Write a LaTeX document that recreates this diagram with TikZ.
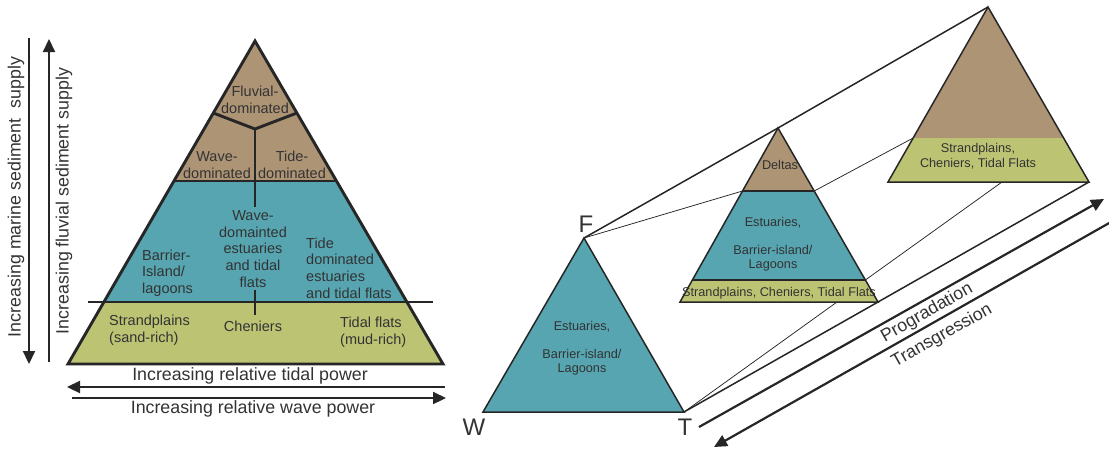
\documentclass[tikz,border=0pt]{standalone}
\usepackage{fontspec}
\setmainfont{Liberation Sans}
\usetikzlibrary{arrows.meta,calc}
\definecolor{delta}{HTML}{AD9475}
\definecolor{estuary}{HTML}{56A5B1}
\definecolor{strand}{HTML}{BCC474}
\definecolor{ink}{HTML}{262626}
\definecolor{txt}{HTML}{333333}
\begin{document}
\begin{tikzpicture}[x=1pt,y=-1pt,
  lbl/.style={text=txt,font=\fontsize{14.5}{16.7}\selectfont,inner sep=0pt},
  axislbl/.style={text=txt,font=\fontsize{17.8}{20}\selectfont,inner sep=0pt},
  smalllbl/.style={text=txt,font=\fontsize{12.7}{14}\selectfont,inner sep=0pt,align=center},
  cornerlbl/.style={text=txt,font=\fontsize{24}{26}\selectfont,inner sep=0pt},
  frame/.style={draw=ink,line width=2.9pt},
  edge/.style={draw=ink,line width=1.5pt},
  thinlink/.style={draw=ink,line width=0.75pt},
  link/.style={draw=ink,line width=1.5pt},
  bigarrow/.style={draw=ink,line width=2.2pt,-{Triangle[length=13pt,width=12pt]}}]
\useasboundingbox (0,0) rectangle (1109,448);

% ---------- ternary pyramid ----------
\coordinate (A) at (255,41);
\coordinate (BL) at (68,364);
\coordinate (BR) at (443,364);
\coordinate (L0) at ($(A)!0.2229!(BL)$);
\coordinate (R0) at ($(A)!0.2229!(BR)$);
\coordinate (L1) at ($(A)!0.4334!(BL)$);
\coordinate (R1) at ($(A)!0.4334!(BR)$);
\coordinate (L2) at ($(A)!0.8080!(BL)$);
\coordinate (R2) at ($(A)!0.8080!(BR)$);
\coordinate (Y) at (255,129);
\coordinate (Ydown) at (255,207);
\coordinate (cutL) at (88,302);
\coordinate (cutR) at (433,302);
\coordinate (tickT) at (255,290);
\coordinate (tickB) at (255,315);

\fill[delta] (A) -- (L1) -- (R1) -- cycle;
\fill[estuary] (L1) -- (L2) -- (R2) -- (R1) -- cycle;
\fill[strand] (L2) -- (BL) -- (BR) -- (R2) -- cycle;
\draw[frame] (L0) -- (Y) -- (R0);
\draw[frame] (Y) -- (Ydown);
\draw[frame] (L1) -- (R1);
\draw[frame] (cutL) -- (cutR);
\draw[frame] (tickT) -- (tickB);
\draw[frame] (A) -- (BL) -- (BR) -- cycle;

\node[lbl,align=center] (fluv) at (255,100) {Fluvial-\\dominated};
\node[lbl,align=center] (wavedom) at (217,165) {Wave-\\dominated};
\node[lbl,align=center] (tidedom) at (292,165) {Tide-\\dominated};
\node[lbl,align=center] (waveest) at (253,249) {Wave-\\domainted\\estuaries\\and tidal\\flats};
\node[lbl,align=left,anchor=west] (barrier) at (142,273) {Barrier-\\Island/\\lagoons};
\node[lbl,align=left,anchor=west] (tideest) at (306,268) {Tide\\dominated\\estuaries\\and tidal flats};
\node[lbl,align=left,anchor=west] (strandp) at (109,330) {Strandplains\\(sand-rich)};
\node[lbl] (chen) at (253,326) {Cheniers};
\node[lbl,align=left,anchor=west] (tflats) at (340,332) {Tidal flats\\(mud-rich)};

% ---------- supply and power axes ----------
\coordinate (mTop) at (29,38);
\coordinate (mBot) at (29,364);
\coordinate (fBot) at (49,362);
\coordinate (fTop) at (49,39);
\draw[bigarrow] (mTop) -- (mBot);
\draw[bigarrow] (fBot) -- (fTop);
\node[axislbl,rotate=90] (marine) at (16,197) {Increasing marine sediment\ \ supply};
\node[axislbl,rotate=90] (fluvial) at (64,201) {Increasing fluvial sediment supply};

\coordinate (tR) at (445,387);
\coordinate (tL) at (67,387);
\coordinate (wL) at (72,398);
\coordinate (wR) at (446,398);
\draw[bigarrow] (tR) -- (tL);
\draw[bigarrow] (wL) -- (wR);
\node[axislbl] (tidal) at (250,376) {Increasing relative tidal power};
\node[axislbl] (wave) at (253,409) {Increasing relative wave power};

% ---------- shoreline succession ----------
\coordinate (F) at (584,238);
\coordinate (W) at (483,412);
\coordinate (T) at (684,412);
\coordinate (M) at (778,128);
\coordinate (MBL) at (680,302);
\coordinate (MBR) at (878,302);
\coordinate (M1L) at ($(M)!0.3621!(MBL)$);
\coordinate (M1R) at ($(M)!0.3621!(MBR)$);
\coordinate (M2L) at ($(M)!0.8736!(MBL)$);
\coordinate (M2R) at ($(M)!0.8736!(MBR)$);
\coordinate (Mfoot) at (837,302);
\coordinate (P) at (988,7);
\coordinate (PBL) at (888,182);
\coordinate (PBR) at (1089,182);
\coordinate (P1L) at ($(P)!0.7486!(PBL)$);
\coordinate (P1R) at ($(P)!0.7486!(PBR)$);
\coordinate (Pfoot) at (1002,182);

% tie lines between the successive triangles
\draw[link] (F) -- (M) -- (P);
\draw[link] (T) -- (MBR) -- (PBR);
\draw[thinlink] (F) -- (M1L);
\draw[thinlink] (M1R) -- (P1L);
\draw[thinlink] (T) -- (Mfoot);
\draw[thinlink] (M2R) -- (Pfoot);

% transgressive stage
\fill[estuary] (F) -- (W) -- (T) -- cycle;
\draw[edge] (F) -- (W) -- (T) -- cycle;
% intermediate stage
\fill[delta] (M) -- (M1L) -- (M1R) -- cycle;
\fill[estuary] (M1L) -- (M2L) -- (M2R) -- (M1R) -- cycle;
\fill[strand] (M2L) -- (MBL) -- (MBR) -- (M2R) -- cycle;
\draw[edge] (M1L) -- (M1R);
\draw[edge] (M2L) -- (M2R);
\draw[edge] (M) -- (MBL) -- (MBR) -- cycle;
% progradational stage
\fill[delta] (P) -- (P1L) -- (P1R) -- cycle;
\fill[strand] (P1L) -- (PBL) -- (PBR) -- (P1R) -- cycle;
\draw[edge] (P) -- (PBL) -- (PBR) -- cycle;

\node[cornerlbl] (Flab) at (586,224) {F};
\node[cornerlbl] (Wlab) at (474,427) {W};
\node[cornerlbl] (Tlab) at (685,427) {T};

\node[smalllbl] (est1) at (582,348) {Estuaries,\\[14pt]Barrier-island/\\Lagoons};
\node[smalllbl] (deltas) at (780,165) {Deltas};
\node[smalllbl] (est2) at (773,244) {Estuaries,\\[14pt]Barrier-island/\\Lagoons};
\node[smalllbl] (strand2) at (779,293) {Strandplains, Cheniers, Tidal Flats};
\node[smalllbl] (strand3) at (978,156) {Strandplains,\\[1pt]Cheniers, Tidal Flats};

% trend arrows
\coordinate (pS) at (699,427);
\coordinate (pE) at (1104,199);
\coordinate (gS) at (1118,218);
\coordinate (gE) at (714,447);
\draw[bigarrow] (pS) -- (pE);
\draw[bigarrow] (gS) -- (gE);
\node[axislbl,rotate=29.4] (prog) at (927,313) {Progradation};
\node[axislbl,rotate=29.4] (trans) at (942,336) {Transgression};
\end{tikzpicture}
\end{document}
